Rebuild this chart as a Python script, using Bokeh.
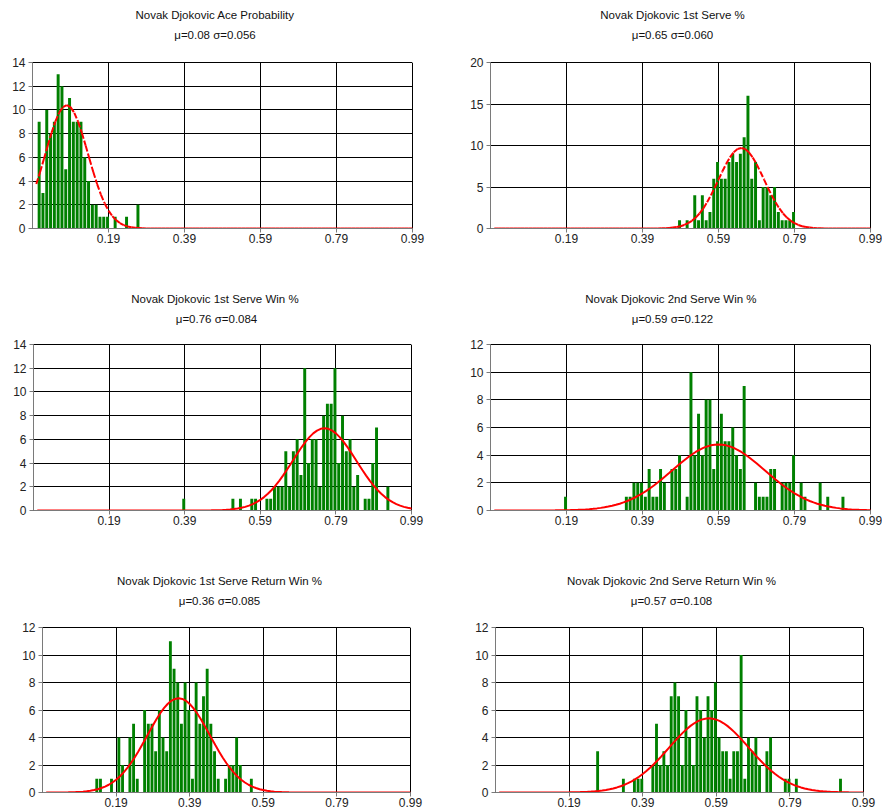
import numpy as np
from bokeh.plotting import figure
from bokeh.models import Range1d, FixedTicker, Title, ColumnDataSource, LinearAxis
from bokeh.layouts import column, row
from bokeh.embed import file_html
from bokeh.resources import INLINE

# ---------------- data ----------------
N_MATCHES = 146
BIN_WIDTH = 0.01

names = [
    "Novak Djokovic Ace Probability",
    "Novak Djokovic 1st Serve %",
    "Novak Djokovic 1st Serve  Win %",
    "Novak Djokovic 2nd Serve  Win %",
    "Novak Djokovic 1st Serve Return Win %",
    "Novak Djokovic 2nd Serve Return Win %",
]
mus = [0.08, 0.65, 0.76, 0.59, 0.36, 0.57]
sigmas = [0.056, 0.060, 0.084, 0.122, 0.085, 0.108]

x_ticks = [0.19, 0.39, 0.59, 0.79, 0.99]
y_ticks = [
    [0, 2, 4, 6, 8, 10, 12, 14],
    [0, 5, 10, 15, 20],
    [0, 2, 4, 6, 8, 10, 12, 14],
    [0, 2, 4, 6, 8, 10, 12],
    [0, 2, 4, 6, 8, 10, 12],
    [0, 2, 4, 6, 8, 10, 12],
]

ace_bins = [0.01, 0.02, 0.03, 0.04, 0.05, 0.06, 0.07, 0.08, 0.09, 0.10, 0.11,
            0.12, 0.13, 0.14, 0.15, 0.16, 0.17, 0.18, 0.19, 0.21, 0.24, 0.27]
ace_counts = [9, 3, 10, 8, 9, 13, 12, 5, 11, 9, 9,
              9, 6, 4, 2, 2, 1, 1, 1, 1, 1, 2]

fs_bins = [0.49, 0.51, 0.53, 0.54, 0.55, 0.56, 0.57, 0.58, 0.59, 0.60, 0.61,
           0.62, 0.63, 0.64, 0.65, 0.66, 0.67, 0.68, 0.69, 0.70, 0.71, 0.72,
           0.73, 0.74, 0.75, 0.76, 0.77, 0.78, 0.79]
fs_counts = [1, 1, 4, 1, 4, 1, 2, 6, 8, 6, 6,
             8, 9, 8, 9, 11, 16, 6, 8, 1, 5, 5,
             4, 5, 2, 1, 1, 1, 2]

fsw_bins = [0.39, 0.52, 0.54, 0.57, 0.58, 0.61, 0.62, 0.63, 0.64, 0.65, 0.66,
            0.67, 0.68, 0.69, 0.70, 0.71, 0.72, 0.73, 0.74, 0.75, 0.76, 0.77,
            0.78, 0.79, 0.80, 0.81, 0.82, 0.83, 0.84, 0.85, 0.87, 0.88, 0.89,
            0.90, 0.93]
fsw_counts = [1, 1, 1, 1, 1, 1, 1, 2, 2, 2, 5,
              2, 5, 6, 3, 12, 4, 6, 6, 2, 8, 9,
              9, 12, 4, 8, 5, 6, 2, 3, 1, 1, 4,
              7, 2]

ssw_bins = [0.19, 0.35, 0.36, 0.37, 0.38, 0.39, 0.40, 0.41, 0.42, 0.43, 0.44,
            0.45, 0.47, 0.48, 0.49, 0.51, 0.52, 0.53, 0.54, 0.55, 0.56, 0.57,
            0.58, 0.59, 0.60, 0.61, 0.62, 0.63, 0.64, 0.65, 0.66, 0.69, 0.70,
            0.71, 0.72, 0.73, 0.74, 0.76, 0.77, 0.78, 0.79, 0.81, 0.82, 0.86,
            0.88, 0.92]
ssw_counts = [1, 1, 1, 2, 2, 2, 1, 3, 1, 1, 3,
              2, 3, 3, 4, 1, 10, 4, 7, 4, 8, 8,
              3, 5, 7, 5, 5, 6, 4, 3, 9, 2, 1,
              1, 1, 3, 3, 2, 2, 2, 4, 2, 1, 2,
              1, 1]

fsr_bins = [0.14, 0.15, 0.18, 0.20, 0.21, 0.23, 0.24, 0.25, 0.27, 0.28, 0.29,
            0.30, 0.31, 0.32, 0.33, 0.34, 0.35, 0.36, 0.37, 0.38, 0.39, 0.40,
            0.41, 0.42, 0.43, 0.44, 0.45, 0.46, 0.47, 0.49, 0.50, 0.51, 0.52,
            0.53, 0.56]
fsr_counts = [1, 1, 1, 4, 2, 4, 5, 1, 6, 5, 5,
              3, 6, 4, 3, 11, 9, 8, 5, 8, 6, 1,
              8, 5, 7, 9, 5, 3, 1, 1, 2, 2, 4,
              2, 1]

ssr_bins = [0.27, 0.34, 0.37, 0.38, 0.39, 0.42, 0.43, 0.44, 0.45, 0.46, 0.47,
            0.48, 0.49, 0.50, 0.51, 0.52, 0.53, 0.54, 0.55, 0.56, 0.57, 0.58,
            0.59, 0.60, 0.61, 0.62, 0.63, 0.64, 0.65, 0.66, 0.67, 0.68, 0.69,
            0.70, 0.71, 0.73, 0.74, 0.78, 0.79, 0.81, 0.93]
ssr_counts = [3, 1, 1, 1, 1, 2, 5, 2, 3, 2, 7,
              8, 7, 2, 6, 4, 2, 7, 6, 4, 7, 6,
              8, 4, 3, 3, 1, 3, 3, 10, 1, 4, 3,
              4, 2, 3, 4, 1, 1, 1, 1]

all_bins = [ace_bins, fs_bins, fsw_bins, ssw_bins, fsr_bins, ssr_bins]
all_counts = [ace_counts, fs_counts, fsw_counts, ssw_counts, fsr_counts, ssr_counts]

# ---------------- layout / style ----------------
FONT = "Liberation Sans"
TITLE_SIZE = 11.5
BAR_SHIFT = -0.0025
# (width, height, left, right, top, bottom) per panel, page has no margin
geom = [
    (448, 290, 32, 36, 62, 62),
    (434, 290, 42, 12, 62, 62),
    (448, 280, 33, 37, 54, 60),
    (434, 280, 42, 12, 54, 60),
    (448, 241, 42, 38, 57, 19),
    (434, 241, 47, 19, 57, 19),
]
# gap between frame and the sub-title block, per panel
title_gap = [18, 18, 16, 16, 17, 17]
# horizontal centre of the two title lines (page px)
title_centers = [214.5, 672, 216, 672, 219, 671]
dashed_curve = [True, True, False, False, False, False]

# Arial-like advance widths (per 1000 em) to centre titles by hand
_W = {"N": 722, "o": 556, "v": 500, "a": 556, "k": 500, "D": 722, "j": 222,
      "c": 500, "i": 222, "A": 667, "e": 556, "P": 667, "r": 333, "b": 556,
      "l": 222, "t": 278, "y": 500, "s": 500, "S": 667, "%": 889, "n": 556,
      "d": 556, "W": 944, "R": 722, "u": 556, "\u03bc": 576, "=": 584,
      ".": 278, "\u03c3": 617, " ": 278}


def text_w(s):
    return sum(_W.get(ch, 556) for ch in s) * TITLE_SIZE / 1000.0


def make_panel(i):
    w, h, L, R, T, B = geom[i]
    yt = y_ticks[i]
    p = figure(width=w, height=h, x_range=Range1d(-0.01, 0.99),
               y_range=Range1d(0, yt[-1]), output_backend="svg",
               toolbar_location=None, title=None,
               min_border_left=L, min_border_right=R,
               min_border_top=T, min_border_bottom=B)
    p.background_fill_color = "white"
    p.border_fill_color = "white"
    p.outline_line_color = "black"
    p.outline_line_width = 1

    src = ColumnDataSource(dict(x=[b + BAR_SHIFT for b in all_bins[i]],
                                top=all_counts[i]))
    p.vbar(x="x", top="top", bottom=0, width=0.0078, source=src,
           fill_color="#008000", line_color=None)

    # fitted normal curve scaled to the histogram counts
    cx = np.arange(0, 101) / 100.0
    cy = N_MATCHES * BIN_WIDTH * np.exp(-0.5 * ((cx - mus[i]) / sigmas[i]) ** 2) / (
        sigmas[i] * np.sqrt(2 * np.pi))
    if dashed_curve[i]:
        xs = [[cx[k], cx[k + 1]] for k in range(len(cx) - 1)]
        ys = [[cy[k], cy[k + 1]] for k in range(len(cy) - 1)]
        p.multi_line(xs=xs, ys=ys, line_color="red", line_width=2,
                     line_dash="6 2")
    else:
        p.line(cx, cy, line_color="red", line_width=2)

    p.xaxis.ticker = FixedTicker(ticks=x_ticks)
    p.xgrid.ticker = FixedTicker(ticks=x_ticks)
    p.yaxis.ticker = FixedTicker(ticks=yt)
    p.ygrid.ticker = FixedTicker(ticks=yt)
    p.xaxis.minor_tick_line_color = None
    p.yaxis.minor_tick_line_color = None
    for ax in (p.xaxis, p.yaxis):
        ax.axis_line_color = "#7a7a7a"
        ax.major_tick_line_color = "#7a7a7a"
        ax.major_tick_in = 0
        ax.major_tick_out = 4
        ax.major_label_text_font = FONT
        ax.major_label_text_font_size = "12px"
        ax.major_label_text_color = "#222222"
    p.xaxis.major_label_standoff = 1
    p.yaxis.major_label_standoff = 3
    p.grid.grid_line_color = "black"
    p.grid.grid_line_width = 1
    p.grid.grid_line_alpha = 1.0

    # invisible spacer (a label-less axis with one white tick) between frame and titles
    spacer = LinearAxis(ticker=FixedTicker(ticks=[0.99]), axis_line_color=None,
                        major_tick_line_color="white",
                        minor_tick_line_color=None,
                        major_tick_out=title_gap[i], major_tick_in=0,
                        minor_tick_out=0, minor_tick_in=0,
                        major_label_standoff=0,
                        major_label_text_color=None)
    p.add_layout(spacer, "above")

    frame_left = L
    page_left = 0 if i % 2 == 0 else geom[0][0]
    sub = "\u03bc={:.2f} \u03c3={:.3f}".format(mus[i], sigmas[i])
    c = title_centers[i] - page_left - frame_left
    p.add_layout(Title(text=sub, align="left", offset=c - text_w(sub) / 2,
                       text_font=FONT, text_font_size="%spx" % TITLE_SIZE,
                       text_font_style="normal", text_color="#111111",
                       standoff=6, vertical_align="middle"), "above")
    p.add_layout(Title(text=names[i], align="left",
                       offset=c - text_w(names[i]) / 2,
                       text_font=FONT, text_font_size="%spx" % TITLE_SIZE,
                       text_font_style="normal", text_color="#111111",
                       standoff=4, vertical_align="top"), "above")
    return p


panels = [make_panel(i) for i in range(6)]
layout = column(row(panels[0], panels[1]),
                row(panels[2], panels[3]),
                row(panels[4], panels[5]))

open("out.html", "w").write(file_html(layout, INLINE))
